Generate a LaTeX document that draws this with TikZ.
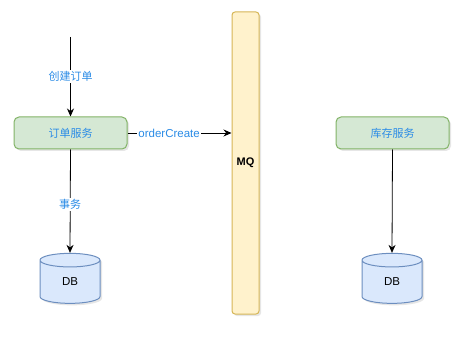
\documentclass[tikz,border=0pt]{standalone}
\usepackage{fontspec}
\setmainfont{Liberation Sans}
\newfontfamily\cjk{Noto Sans CJK SC}
\usetikzlibrary{shapes.geometric,arrows.meta,shadows}
\definecolor{gfill}{HTML}{D5E8D4}
\definecolor{gline}{HTML}{82B366}
\definecolor{bfill}{HTML}{DAE8FC}
\definecolor{bline}{HTML}{6C8EBF}
\definecolor{yfill}{HTML}{FFF2CC}
\definecolor{yline}{HTML}{D6B656}
\definecolor{lbl}{HTML}{2B8CE6}
\tikzset{
  sh/.style={drop shadow={opacity=0.2,shadow xshift=2pt,shadow yshift=-2pt}},
  svc/.style={draw=gline,fill=gfill,line width=1pt,rounded corners=5pt,minimum width=113pt,minimum height=32pt,inner sep=0pt,text=lbl,font=\cjk\fontsize{11pt}{13pt}\selectfont,sh},
  db/.style={cylinder,shape border rotate=90,aspect=0.85,draw=bline,fill=bfill,line width=1pt,minimum width=60pt,minimum height=50pt,inner sep=0pt,font=\fontsize{11.5pt}{13pt}\selectfont,sh},
  mq/.style={draw=yline,fill=yfill,line width=1pt,rounded corners=3pt,minimum width=27pt,minimum height=302pt,inner sep=0pt,font=\bfseries\fontsize{11pt}{13pt}\selectfont,sh},
  arr/.style={-{Stealth[length=8pt,width=7pt]},line width=0.8pt},
  elbl/.style={fill=white,text=lbl,inner sep=1.5pt,font=\cjk\fontsize{11pt}{13pt}\selectfont},
  olbl/.style={fill=white,text=lbl,inner sep=1pt,font=\fontsize{11.5pt}{13pt}\selectfont}
}
\begin{document}
\begin{tikzpicture}[x=1pt,y=-1pt]
\useasboundingbox (0,0) rectangle (474,342);
\node[mq] (mq) at (245.5,163) {\raisebox{-4pt}{MQ}};
\node[svc] (order) at (70.5,133) {订单服务};
\node[svc] (stock) at (392.5,133) {库存服务};
\node[db] (db1) at (70,282) {\raisebox{-6pt}{DB}};
\node[db] (db2) at (392,282) {\raisebox{-6pt}{DB}};
\coordinate (start) at (70.5,37);
\draw[arr] (start) -- node[elbl,pos=0.5] {创建订单} (order.north);
\draw[arr] (order.south) -- node[elbl,pos=0.53] {事务} (db1.top);
\draw[arr] (order.east) -- node[olbl,pos=0.4] {orderCreate} (mq.west |- order.east);
\draw[arr] (stock.south) -- (db2.top);
\end{tikzpicture}
\end{document}
